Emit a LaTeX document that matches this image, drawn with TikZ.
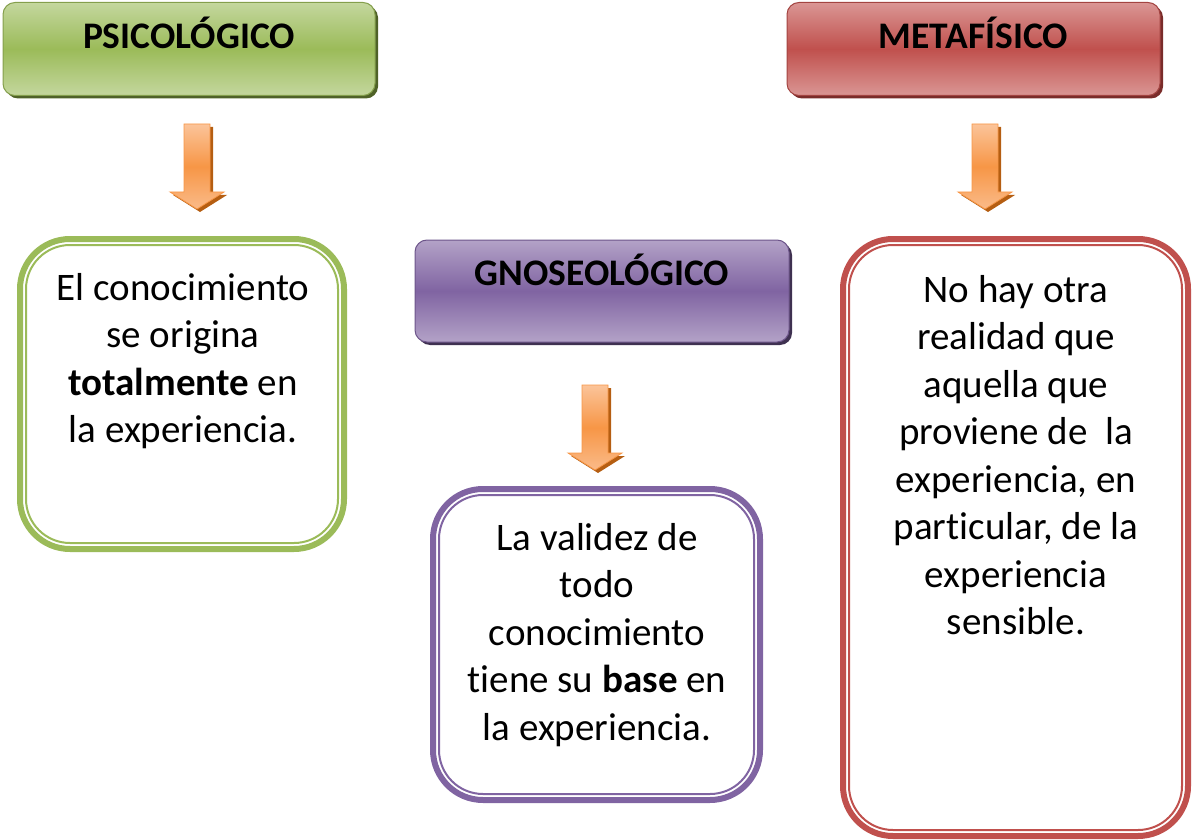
\documentclass[tikz,border=0pt]{standalone}
\usepackage{fontspec}
\setmainfont{Carlito}[Ligatures={NoCommon}]
\usetikzlibrary{calc,shadows}
\definecolor{grn}{HTML}{9BBB59}
\definecolor{grnlt}{HTML}{C4D79E}
\definecolor{grnsh}{HTML}{4F6228}
\definecolor{red1}{HTML}{C0504D}
\definecolor{redlt}{HTML}{DA9694}
\definecolor{redsh}{HTML}{7A2C2A}
\definecolor{pur}{HTML}{8064A2}
\definecolor{purlt}{HTML}{B3A2C7}
\definecolor{pursh}{HTML}{3F3151}
\definecolor{orng}{HTML}{F79646}
\definecolor{orlt}{HTML}{FBC49A}
\definecolor{orsh}{HTML}{B55E12}
\begin{document}
\begin{tikzpicture}[x=1pt,y=-1pt,
  hdr/.style n args={3}{rounded corners=12pt, minimum height=93pt, inner sep=0pt,
    text height=0pt, text depth=0pt,
    font=\fontsize{37.5}{44}\selectfont\bfseries,
    draw=#1!85!black, line width=1pt,
    top color=#2, bottom color=#2, middle color=#1,
    drop shadow={shadow xshift=3pt, shadow yshift=-3pt, fill=#3, opacity=1}},
  cbox/.style={draw=#1, line width=6pt, rounded corners=50pt, inner sep=0pt, outer sep=0pt, fill=white},
  cinner/.style={draw=#1, line width=2pt, rounded corners=44pt},
  btext/.style={font=\fontsize{39}{47.5}\selectfont, align=center, inner sep=0pt, anchor=north},
  darrow/.pic={
    \fill[orsh] (-10,3)--(16,3)--(16,71)--(30,71)--(3,88)--(-24,71)--(-10,71)--cycle;
    \draw[orng, line width=0.8pt, top color=orlt, bottom color=orlt!80!orng, middle color=orng]
      (-13,0)--(13,0)--(13,68)--(27,68)--(0,85)--(-27,68)--(-13,68)--cycle;
  }]
\useasboundingbox (0,0) rectangle (1192,840);

% header boxes
\node[hdr={grn}{grnlt}{grnsh}, minimum width=372pt] (psico) at (189,49) {PSICOLÓGICO};
\node[hdr={red1}{redlt}{redsh}, minimum width=373pt] (meta) at (973.5,49) {METAFÍSICO};
\node[hdr={pur}{purlt}{pursh}, minimum width=374pt, minimum height=102pt, text depth=12pt] (gnoseo) at (602,291) {GNOSEOLÓGICO};

% arrows
\pic at (197,124) {darrow};
\pic at (985,124) {darrow};
\pic at (595,385) {darrow};

% content boxes
\node[cbox=grn, minimum width=324pt, minimum height=310pt] (gbox) at (182,394) {};
\draw[cinner=grn] ($(gbox.north west)+(6,6)$) rectangle ($(gbox.south east)+(-6,-6)$);
\node[cbox=pur, minimum width=327pt, minimum height=311pt] (pbox) at (596.5,644.5) {};
\draw[cinner=pur] ($(pbox.north west)+(6,6)$) rectangle ($(pbox.south east)+(-6,-6)$);
\node[cbox=red1, minimum width=345pt, minimum height=597pt] (rbox) at (1015.5,537.5) {};
\draw[cinner=red1] ($(rbox.north west)+(6,6)$) rectangle ($(rbox.south east)+(-6,-6)$);

% texts
\node[btext] (gtext) at (183,266.75) {\strut El conocimiento\\se origina\\\textbf{totalmente} en\\la experiencia.};
\node[btext] (ptext) at (597,516.75) {\strut La validez de\\todo\\conocimiento\\tiene su \textbf{base} en\\la experiencia.};
\node[btext] (rtext) at (1016,268.75) {\strut No hay otra\\realidad que\\aquella que\\proviene de~ la\\experiencia, en\\particular, de la\\experiencia\\sensible.};
\end{tikzpicture}
\end{document}
